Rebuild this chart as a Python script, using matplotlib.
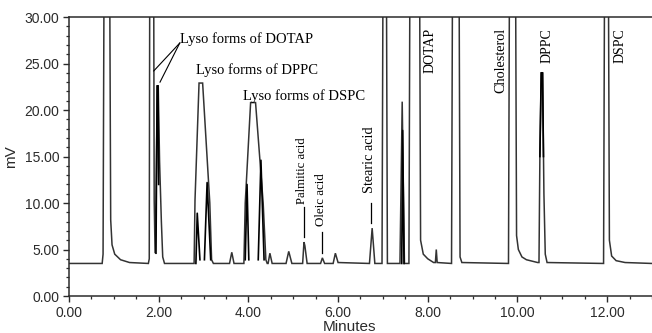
"""HPLC-ELSD chromatogram of the liposome lipids and their degradation products."""

import matplotlib
matplotlib.use("Agg")
import matplotlib.pyplot as plt
from matplotlib.ticker import FormatStrFormatter, MultipleLocator

# ---- trace (minutes, mV); off-scale peaks set to 32 and clipped at 30 ----
TIME_MIN = [
    0.00, 0.74, 0.76, 0.77, 0.78, 0.91, 0.93, 0.96, 1.02, 1.15, 1.35,        # solvent front
    1.77, 1.79, 1.80, 1.89, 1.90, 1.92, 1.94, 1.97, 1.99, 2.02, 2.06, 2.09, 2.13,  # lyso DOTAP
    2.79, 2.81, 2.90, 2.98, 3.14, 3.18, 3.22,                                # lyso DPPC
    3.58, 3.63, 3.68,
    3.90, 3.93, 4.05, 4.16, 4.33, 4.39, 4.42,                                # lyso DSPC
    4.44, 4.48, 4.53,
    4.84, 4.90, 4.97,
    5.21, 5.24, 5.26, 5.31,                                                  # palmitic acid
    5.61, 5.65, 5.70,                                                        # oleic acid
    5.89, 5.94, 6.00,
    6.70, 6.76, 6.82,                                                        # stearic acid
    6.98, 7.00, 7.08, 7.10,
    7.38, 7.43, 7.48,
    7.58, 7.60, 7.82, 7.84, 7.90, 8.00, 8.13, 8.17, 8.19, 8.21,              # DOTAP
    8.53, 8.55, 8.70, 8.72, 8.76,
    9.80, 9.82, 9.96, 9.98, 10.02, 10.10, 10.20, 10.45,                      # cholesterol
    10.48, 10.50, 10.53, 10.56, 10.59, 10.62, 10.66,                         # DPPC
    11.92, 11.94, 12.03, 12.05, 12.10, 12.20, 12.40, 13.00,                  # DSPC
]
SIGNAL_MV = [
    3.5, 3.5, 4.5, 18.6, 32, 32, 8.2, 5.5, 4.5, 3.9, 3.6,
    3.5, 4.0, 32, 32, 10.3, 4.6, 10.0, 22.6, 22.6, 14.5, 8.0, 4.2, 3.5,
    3.5, 10.3, 22.9, 22.9, 10.0, 3.9, 3.5,
    3.5, 4.7, 3.5,
    3.5, 10.0, 20.8, 20.8, 10.0, 3.9, 3.5,
    3.5, 4.6, 3.5,
    3.5, 4.8, 3.5,
    3.5, 5.8, 5.4, 3.5,
    3.5, 4.1, 3.5,
    3.5, 4.6, 3.6,
    3.5, 7.3, 3.5,
    3.5, 32, 32, 3.5,
    3.5, 20.9, 3.5,
    3.5, 32, 32, 6.0, 4.5, 4.0, 3.6, 3.6, 5.0, 3.6,
    3.5, 32, 32, 4.2, 3.6,
    3.5, 32, 32, 6.5, 5.0, 4.2, 3.9, 3.6,
    3.6, 15.0, 24.0, 24.0, 11.0, 4.5, 3.6,
    3.5, 32, 32, 6.0, 4.3, 3.8, 3.6, 3.5,
]

# overlaid (black) run: only the parts that differ from the grey trace
OVERLAY_T = [[1.94, 1.965, 1.985, 2.00], [2.83, 2.86, 2.92], [3.02, 3.08, 3.16],
             [3.93, 3.97, 4.01], [4.22, 4.28, 4.35], [7.42, 7.44, 7.47],
             [10.50, 10.53, 10.56, 10.58]]
OVERLAY_MV = [[4.6, 22.6, 22.6, 12.0], [3.5, 8.9, 3.9], [3.9, 12.2, 3.9],
              [3.9, 12.0, 3.9], [3.9, 14.6, 3.9], [3.5, 17.8, 3.5],
              [15.0, 24.0, 24.0, 15.0]]

X_TICKS = [0, 2, 4, 6, 8, 10, 12]
Y_TICKS = [0, 5, 10, 15, 20, 25, 30]

INK = "#2b2b2b"; TRACE = "#333333"
SERIF = ["Liberation Serif", "DejaVu Serif"]
SANS = ["Liberation Sans", "DejaVu Sans"]

fig = plt.figure(figsize=(6.52, 3.33), dpi=100)
ax = fig.add_axes([0.1058, 0.1111, 0.8942, 0.8378])

ax.plot(TIME_MIN, SIGNAL_MV, color=TRACE, lw=1.1, solid_joinstyle="miter")
for t, v in zip(OVERLAY_T, OVERLAY_MV):
    ax.plot(t, v, color="black", lw=1.2)

ax.set_xlim(0, 13)
ax.set_ylim(0, 30)
ax.set_xticks(X_TICKS)
ax.set_yticks(Y_TICKS)
ax.xaxis.set_minor_locator(MultipleLocator(0.5))
ax.yaxis.set_minor_locator(MultipleLocator(1))
ax.xaxis.set_major_formatter(FormatStrFormatter("%.2f"))
ax.yaxis.set_major_formatter(FormatStrFormatter("%.2f"))
ax.tick_params(which="major", direction="out", length=4, width=1, color=INK, pad=3,
               labelsize=10, labelcolor=INK)
ax.tick_params(which="minor", direction="out", length=2.5, width=0.9, color=INK)
for lab in ax.get_xticklabels() + ax.get_yticklabels():
    lab.set_family(SANS)
ax.spines["right"].set_visible(False)
for s in ("left", "bottom", "top"):
    ax.spines[s].set_color(INK)
    ax.spines[s].set_linewidth(1.1)

ax.set_xlabel("Minutes", family=SANS, fontsize=11, color=INK)
ax.xaxis.set_label_coords(0.482, -0.085)
ax.set_ylabel("mV", family=SANS, fontsize=11, color=INK)
ax.yaxis.set_label_coords(-0.087, 0.5)

# ---- peak labels ----
txt = dict(family=SERIF, color="black")
ax.text(2.47, 27.6, "Lyso forms of DOTAP", fontsize=10.5, va="center", ha="left", **txt)
ax.plot([2.47, 1.89], [27.2, 24.2], color="black", lw=0.8)
ax.plot([2.47, 2.03], [27.2, 23.0], color="black", lw=0.8)
ax.text(2.83, 24.3, "Lyso forms of DPPC", fontsize=10.5, va="center", ha="left", **txt)
ax.text(3.88, 21.5, "Lyso forms of DSPC", fontsize=10.5, va="center", ha="left", **txt)

vlabels = [  # (x, top, text, size, leader x, leader from, leader to)
    (5.19, 17.1, "Palmitic acid", 9.2, 5.23, 9.6, 6.3),
    (5.63, 13.2, "Oleic acid", 9.4, 5.64, 6.9, 4.6),
    (6.70, 18.2, "Stearic acid", 10.3, 6.74, 10.0, 7.8),
    (8.05, 28.8, "DOTAP", 10, None, 0, 0),
    (9.62, 28.8, "Cholesterol", 10.3, None, 0, 0),
    (10.65, 28.8, "DPPC", 10, None, 0, 0),
    (12.29, 28.8, "DSPC", 10, None, 0, 0),
]
for x, top, s, fs, lx, l0, l1 in vlabels:
    ax.text(x, top, s, rotation=90, ha="center", va="top", fontsize=fs, **txt)
    if lx is not None:
        ax.plot([lx, lx], [l0, l1], color="black", lw=0.9)

fig.savefig("out.png", dpi=100)
